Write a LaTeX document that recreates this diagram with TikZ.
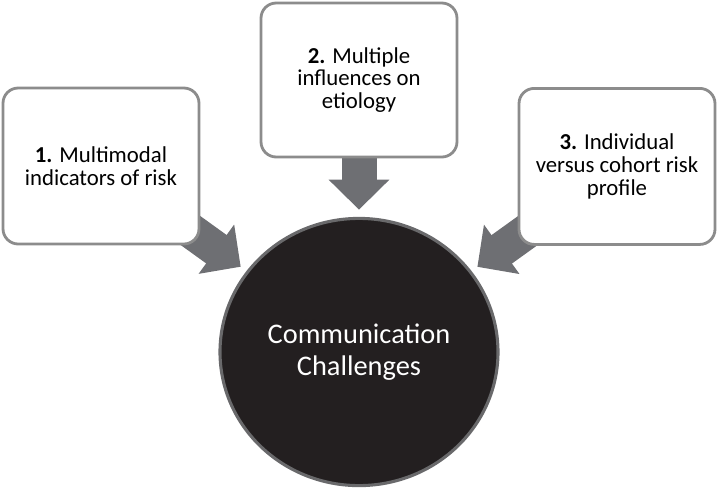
\documentclass[tikz,border=0pt]{standalone}
\usepackage{fontspec}
\setmainfont{Carlito}
\usepackage{tikz}
\usetikzlibrary{arrows.meta, shapes.geometric, backgrounds}

\definecolor{boxline}{RGB}{140,140,140}
\definecolor{arrowgray}{RGB}{110,111,115}
\definecolor{hubfill}{RGB}{35,31,32}
\definecolor{hubline}{RGB}{105,105,107}

\tikzset{
  challengebox/.style={draw=boxline, line width=2pt, fill=white, rounded corners=0.38cm, minimum width=4.9cm, align=center, font=\fontsize{16.2}{16.2}\selectfont},
  hubcircle/.style={ellipse, draw=hubline, line width=2.2pt, fill=hubfill, minimum width=6.95cm, minimum height=6.68cm, align=center, text=white, font=\fontsize{20.2}{23}\selectfont},
  feedarrow/.style={draw=arrowgray, line width=0.875cm, -{Triangle[width=1.475cm, length=0.75cm, fill=arrowgray]}, shorten >=0.18cm}
}

\begin{document}
\begin{tikzpicture}
\useasboundingbox (0,0) rectangle (17.95,-12.225);

\node[challengebox, minimum height=3.9cm] at (2.525,-4.15) (indicators) {\textbf{1.} Multimodal\\indicators of risk};
\node[challengebox, minimum height=3.85cm] at (8.975,-2.0) (etiology) {\textbf{2.} Multiple\\influences on\\etiology};
\node[challengebox, minimum height=3.9cm] at (15.425,-4.16) (profile) {\textbf{3.} Individual\\versus cohort risk\\profile};
\node[hubcircle] at (8.975,-8.8) (hub) {Communication\\Challenges};

\begin{scope}[on background layer]
\draw[feedarrow] (indicators.center) -- (hub);
\draw[feedarrow] (etiology.center) -- (hub);
\draw[feedarrow] (profile.center) -- (hub);
\end{scope}
\end{tikzpicture}
\end{document}
